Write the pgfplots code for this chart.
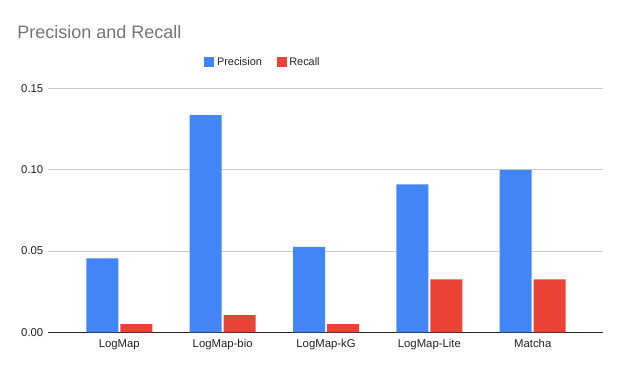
\documentclass[border=0pt]{standalone}
\usepackage{pgfplots}
\pgfplotsset{compat=1.18}
\usepackage{fontspec}
\setmainfont{Liberation Sans}
\definecolor{cblue}{HTML}{4285F4}
\definecolor{cred}{HTML}{EA4335}
\definecolor{cgrid}{HTML}{CCCCCC}
\definecolor{ctitle}{HTML}{757575}
\definecolor{ctext}{HTML}{222222}
\begin{document}
\begin{tikzpicture}
\path[use as bounding box] (0,0) rectangle (466.5pt,278.25pt);
\node[anchor=base west, font=\fontsize{13.5pt}{15pt}\selectfont, text=ctitle, inner sep=0pt] at (12.75pt,249.5pt) {Precision and Recall};
\begin{axis}[
  at={(36pt,29.0pt)}, anchor=south west,
  scale only axis,
  width=416.25pt, height=183pt,
  ybar=1.5pt, bar width=24pt,
  xmin=-0.69, xmax=4.68,
  ymin=0, ymax=0.15,
  xtick=data,
  xticklabels={LogMap,LogMap-bio,LogMap-kG,LogMap-Lite,Matcha},
  ytick={0,0.05,0.1,0.15},
  yticklabel style={/pgf/number format/.cd, fixed, fixed zerofill, precision=2, assume math mode=true},
  ticklabel style={font=\fontsize{8.5pt}{10pt}\selectfont, text=ctext},
  xticklabel style={yshift=-2pt},
  major tick length=0pt,
  axis x line*=bottom,
  axis y line*=left,
  y axis line style={draw=none},
  x axis line style={draw=ctext, line width=0.8pt, -},
  ymajorgrids, grid style={cgrid, line width=0.7pt},
  legend style={at={(0.388,1.107)}, anchor=center, draw=none, fill=none,
    legend columns=2, font=\fontsize{8.2pt}{10pt}\selectfont, text=ctext,
    /tikz/every even column/.append style={column sep=9pt}},
  legend image code/.code={\fill[#1] (0pt,-3.75pt) rectangle (7.5pt,3.75pt);},
  legend cell align=left,
]
\addplot[draw=none, fill=cblue] coordinates {(0,0.0455) (1,0.1336) (2,0.0525) (3,0.0910) (4,0.0998)};
\addplot[draw=none, fill=cred] coordinates {(0,0.0051) (1,0.0106) (2,0.0051) (3,0.0326) (4,0.0326)};
\legend{Precision,Recall}
\end{axis}
\end{tikzpicture}
\end{document}
